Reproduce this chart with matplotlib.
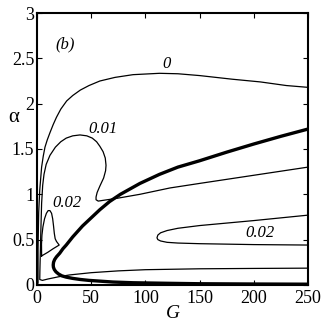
import matplotlib
matplotlib.use('Agg')
import matplotlib.pyplot as plt

plt.rcParams['font.family'] = ['Liberation Serif', 'DejaVu Serif']

# contour level 0 (thin)
c0_G = [1.0, 1.0, 1.6, 2.6, 4.3, 5.8, 7.4, 9.5, 12, 15, 18, 22, 27.4, 33, 40, 48, 58, 72, 88.6,
        113, 130, 150, 180, 206, 230, 250]
c0_a = [0.02, 0.4, 0.8, 1.05, 1.3, 1.42, 1.52, 1.6, 1.68, 1.77, 1.85, 1.94, 2.03, 2.09, 2.15, 2.2, 2.25, 2.29, 2.32,
        2.335, 2.33, 2.31, 2.27, 2.24, 2.2, 2.18]

# contour level 0.01 (thin), from right upper branch round the loop to the lower branch
c1_G = [250, 200, 150, 122.7, 95, 73.5, 62, 56.5, 54.5, 54.5, 55.5, 58, 61.5, 63.3, 63.7, 63, 61, 58, 55, 51, 46, 39.7,
        33, 27, 22, 17, 12, 8.5, 6.5, 5.3, 4.3, 3.6, 3.1, 2.7, 2.6, 5, 10, 20, 30, 50, 75, 100, 150, 200, 250]
c1_a = [1.30, 1.21, 1.12, 1.07, 1.0, 0.955, 0.935, 0.925, 0.94, 0.97, 1.02, 1.09, 1.18, 1.26, 1.32, 1.40, 1.47, 1.53, 1.58,
        1.62, 1.645, 1.655, 1.645, 1.62, 1.58, 1.52, 1.43, 1.33, 1.22, 1.1, 0.9, 0.6, 0.35, 0.15, 0.06, 0.05, 0.065,
        0.09, 0.11, 0.135, 0.155, 0.168, 0.178, 0.182, 0.185]

# contour level 0.02, tongue on the right
c2r_G = [250, 200, 150, 130, 120, 114, 111.5, 110.7, 111.5, 114, 120, 130, 150, 200, 250]
c2r_a = [0.77, 0.71, 0.655, 0.625, 0.6, 0.575, 0.55, 0.52, 0.5, 0.485, 0.47, 0.462, 0.455, 0.445, 0.44]

# contour level 0.02, small loop near the axis
c2l_G = [4.3, 4.2, 4.6, 5.5, 7.0, 8.7, 10.3, 12, 13.5, 14.5, 15.3, 16.0, 16.8, 18, 20.5, 15, 10, 4.3]
c2l_a = [0.32, 0.45, 0.55, 0.64, 0.73, 0.79, 0.82, 0.82, 0.79, 0.73, 0.65, 0.57, 0.51, 0.48, 0.44, 0.40, 0.36, 0.32]

# neutral curve (thick)
nc_G = [250, 200, 150, 120, 88.6, 70, 57.8, 48, 40, 33, 27, 23, 20, 17.5, 16, 15.2, 15, 15.3, 16.3, 18, 21, 24, 27,
        33, 42, 50, 58, 67, 77, 86, 95, 104, 113, 130, 150, 175, 200, 225, 250]
nc_a = [0.008, 0.01, 0.013, 0.018, 0.024, 0.032, 0.042, 0.05, 0.06, 0.072, 0.086, 0.1, 0.12, 0.145, 0.17, 0.195, 0.22,
        0.25, 0.28, 0.31, 0.35, 0.4, 0.44, 0.53, 0.65, 0.74, 0.83, 0.92, 1.0, 1.06, 1.12, 1.17, 1.22, 1.30, 1.37,
        1.465, 1.555, 1.64, 1.72]

fig = plt.figure(figsize=(3.27, 3.26), dpi=100)
ax = fig.add_axes([0.113, 0.126, 0.829, 0.834])

ax.plot(c0_G, c0_a, color='black', lw=0.9)
ax.plot(c1_G, c1_a, color='black', lw=0.9)
ax.plot(c2r_G, c2r_a, color='black', lw=0.9)
ax.plot(c2l_G, c2l_a, color='black', lw=0.9)
ax.plot(nc_G, nc_a, color='black', lw=2.4, solid_capstyle='butt')

# labels on the curves
ax.text(116, 2.39, '0', fontsize=12, style='italic')
ax.text(61, 1.68, '0.01', fontsize=12, style='italic', ha='center')
ax.text(28, 0.86, '0.02', fontsize=12, style='italic', ha='center')
ax.text(206, 0.53, '0.02', fontsize=12, style='italic', ha='center')
ax.text(26, 2.61, '(b)', fontsize=12, style='italic', ha='center')

ax.set_xlim(0, 250)
ax.set_ylim(0, 3)
ax.set_xticks([0, 50, 100, 150, 200, 250])
ax.set_yticks([0, 0.5, 1, 1.5, 2, 2.5, 3])
ax.set_yticklabels(['0', '0.5', '1', '1.5', '2', '2.5', '3'])
ax.tick_params(direction='in', top=True, right=True, length=3.5, width=0.8,
               labelsize=13)
ax.tick_params(axis='x', pad=4)
ax.tick_params(axis='y', pad=2)
for s in ax.spines.values():
    s.set_linewidth(1.5)

ax.set_xlabel('G', fontsize=14, style='italic', labelpad=-2)
ax.set_ylabel('α', fontsize=15, rotation=0, labelpad=6)
ax.yaxis.set_label_coords(-0.085, 0.58)

plt.savefig('out.png', dpi=100, facecolor='white')
